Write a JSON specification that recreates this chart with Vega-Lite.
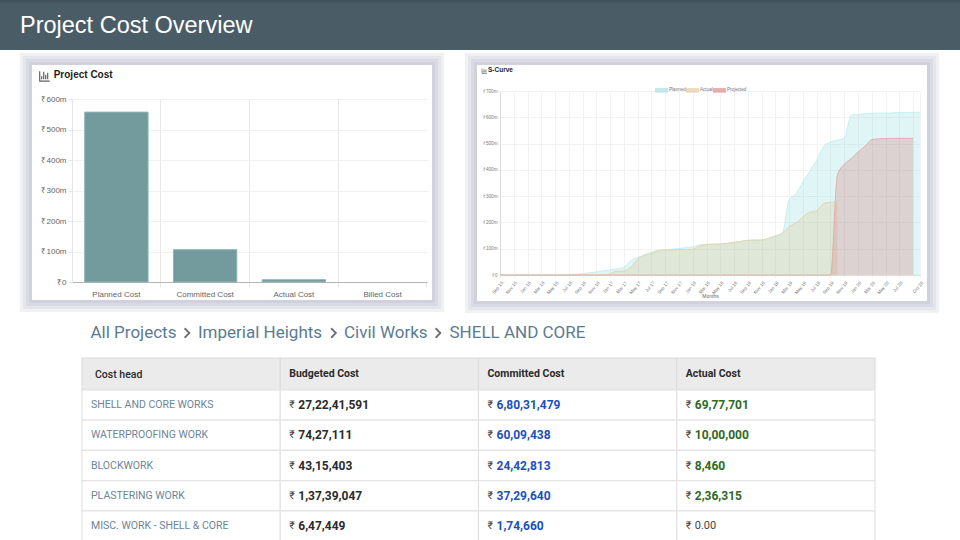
{"$schema":"https://vega.github.io/schema/vega-lite/v6.json","padding":0,"spacing":0,"bounds":"flush","background":"white","config":{"view":{"stroke":null},"concat":{"spacing":0},"font":"Liberation Sans"},
"resolve":{"scale":{"color":"independent","stroke":"independent","x":"independent","y":"independent"},"legend":{"color":"independent","stroke":"independent"}},
"vconcat":[
{"width":960,"height":50,"view":{"fill":"#4a5d67"},"title":{"text":"Project Cost Overview","anchor":"start","frame":"group","offset":-37,"dx":20,"font":"Liberation Sans","fontSize":23.5,"fontWeight":"normal","color":"#ffffff"},"data":{"values":[{"band":"header"}]},"mark":{"type":"rect","fill":{"gradient":"linear","x1":0,"y1":0,"x2":0,"y2":1,"stops":[{"offset":0,"color":"#3d4e56"},{"offset":0.08,"color":"#4a5d67"},{"offset":1,"color":"#4a5d67"}]}}},
{"width":10,"height":15,"data":{"values":[]},"mark":"rect"},
{"spacing":0,"bounds":"flush","hconcat":[
{"width":32,"height":10,"data":{"values":[]},"mark":"rect"},
{"width":400,"height":235,"view":{"stroke":"#9f9fb5","strokeOpacity":0.14,"strokeWidth":24},"data":{"values":[]},"mark":"rect"},
{"width":45,"height":10,"data":{"values":[]},"mark":"rect"},
{"width":450,"height":236,"view":{"stroke":"#9f9fb5","strokeOpacity":0.14,"strokeWidth":24},"data":{"values":[]},"mark":"rect"}
]},
{"spacing":0,"bounds":"flush","hconcat":[
{"width":32,"height":10,"data":{"values":[]},"mark":"rect"},
{"width":400,"height":235,"view":{"stroke":"#9f9fb5","strokeOpacity":0.14,"strokeWidth":18},"data":{"values":[]},"mark":"rect"},
{"width":45,"height":10,"data":{"values":[]},"mark":"rect"},
{"width":450,"height":236,"view":{"stroke":"#9f9fb5","strokeOpacity":0.14,"strokeWidth":18},"data":{"values":[]},"mark":"rect"}
]},
{"spacing":0,"bounds":"flush","hconcat":[
{"width":32,"height":10,"data":{"values":[]},"mark":"rect"},
{"width":400,"height":235,"view":{"stroke":"#9f9fb5","strokeOpacity":0.14,"strokeWidth":12},"data":{"values":[]},"mark":"rect"},
{"width":45,"height":10,"data":{"values":[]},"mark":"rect"},
{"width":450,"height":236,"view":{"stroke":"#9f9fb5","strokeOpacity":0.14,"strokeWidth":12},"data":{"values":[]},"mark":"rect"}
]},
{"spacing":0,"bounds":"flush","hconcat":[
{"width":32,"height":10,"data":{"values":[]},"mark":"rect"},
{"width":400,"height":235,"view":{"stroke":"#9f9fb5","strokeOpacity":0.14,"strokeWidth":6},"data":{"values":[]},"mark":"rect"},
{"width":45,"height":10,"data":{"values":[]},"mark":"rect"},
{"width":450,"height":236,"view":{"stroke":"#9f9fb5","strokeOpacity":0.14,"strokeWidth":6},"data":{"values":[]},"mark":"rect"}
]},
{"spacing":0,"bounds":"flush","hconcat":[
{"width":32,"height":10,"data":{"values":[]},"mark":"rect"},
{"width":400,"height":235,"view":{"fill":"#ffffff"},"data":{"values":[]},"mark":"rect"},
{"width":45,"height":10,"data":{"values":[]},"mark":"rect"},
{"width":450,"height":236,"view":{"fill":"#ffffff"},"data":{"values":[]},"mark":"rect"}
]},
{"spacing":0,"bounds":"flush","resolve":{"scale":{"color":"independent","stroke":"independent","x":"independent","y":"independent"},"legend":{"color":"independent","stroke":"independent"}},"hconcat":[
{"width":32,"height":10,"data":{"values":[]},"mark":"rect"},
{"width":400,"height":251,"title":{"text":"Project Cost","anchor":"start","frame":"group","offset":-15,"dx":21.7,"font":"Liberation Sans","fontSize":10,"fontWeight":"bold","color":"#222222"},
"data":{"values":[{"cost":"Planned Cost","value":557},{"cost":"Committed Cost","value":106},{"cost":"Actual Cost","value":7.5},{"cost":"Billed Cost","value":0}]},
"resolve":{"axis":{"x":"independent","y":"independent"}},
"layer":[
{"mark":{"type":"bar","fill":"#739b9d","stroke":"#8fb5b5","strokeWidth":1},"encoding":{
"strokeOpacity":{"condition":{"test":"datum.value==0","value":0},"value":1},
"x":{"field":"cost","type":"nominal","sort":null,"scale":{"range":[40,395],"paddingInner":0.286,"paddingOuter":0.143},"axis":{"orient":"bottom","title":null,"labels":false,"ticks":false,"domain":false,"values":["Planned Cost","Committed Cost","Actual Cost"],"bandPosition":1.2,"gridColor":"#e8e8e8","grid":true}},
"y":{"field":"value","type":"quantitative","scale":{"domain":[0,600],"range":[217,34]},"axis":{"orient":"left","title":null,"labels":false,"ticks":false,"domain":false,"values":[0,100,200,300,400,500,600],"gridColor":"#f0f0f0","grid":true}}}},
{"data":{"values":[{"icon":"chart"}]},"mark":{"type":"point","shape":"M-1,-1V1H1M-0.6,0.6V0M-0.2,0.6V-0.9M0.2,0.6V-0.3M0.6,0.6V-0.7","size":100,"stroke":"#222222","strokeWidth":1.2,"filled":false,"xOffset":-40},"encoding":{
"x":{"datum":"Planned Cost","bandPosition":0,"axis":{"orient":"bottom","title":null,"grid":false,"offset":-34,"labelAngle":0,"labelFontSize":8,"labelColor":"#666666","labelPadding":3,"bandPosition":1.2,"tickSize":5,"tickColor":"#e6e6e6","domainColor":"#b5b5b5"}},
"y":{"datum":675,"axis":{"orient":"left","title":null,"grid":false,"offset":-40,"values":[0,100,200,300,400,500,600],"labelExpr":"datum.value==0?'₹0':'₹'+datum.value+'m'","labelFontSize":8,"labelColor":"#666666","labelPadding":2,"tickSize":4,"tickColor":"#e6e6e6","domainColor":"#e6e6e6"}}}}
]},
{"width":45,"height":10,"data":{"values":[]},"mark":"rect"},
{"width":450,"height":236,"title":{"text":"S-Curve","anchor":"start","frame":"group","offset":-8,"dx":11,"font":"Liberation Sans","fontSize":6.5,"fontWeight":"bold","color":"#222222"},
"resolve":{"axis":{"x":"independent","y":"independent"}},
"data":{"values":[{"m":"Sep 15","Planned":0,"Actual":0,"Projected":0},{"m":"Oct 15","Planned":0,"Actual":0,"Projected":0},{"m":"Nov 15","Planned":0,"Actual":0,"Projected":0},{"m":"Dec 15","Planned":0,"Actual":0,"Projected":0},{"m":"Jan 16","Planned":0,"Actual":0,"Projected":0},{"m":"Feb 16","Planned":0,"Actual":0,"Projected":0},{"m":"Mar 16","Planned":0,"Actual":0,"Projected":0},{"m":"Apr 16","Planned":0,"Actual":0,"Projected":0},{"m":"May 16","Planned":0,"Actual":0,"Projected":0},{"m":"Jun 16","Planned":0,"Actual":0,"Projected":0},{"m":"Jul 16","Planned":1,"Actual":0,"Projected":0},{"m":"Aug 16","Planned":3,"Actual":0,"Projected":0},{"m":"Sep 16","Planned":5,"Actual":0,"Projected":0},{"m":"Oct 16","Planned":8,"Actual":0,"Projected":0},{"m":"Nov 16","Planned":12,"Actual":0,"Projected":0},{"m":"Dec 16","Planned":16,"Actual":0,"Projected":0},{"m":"Jan 17","Planned":20,"Actual":4,"Projected":0},{"m":"Feb 17","Planned":24,"Actual":15,"Projected":0},{"m":"Mar 17","Planned":30,"Actual":15,"Projected":0},{"m":"Apr 17","Planned":55,"Actual":30,"Projected":0},{"m":"May 17","Planned":67,"Actual":60,"Projected":0},{"m":"Jun 17","Planned":77,"Actual":75,"Projected":0},{"m":"Jul 17","Planned":87,"Actual":82,"Projected":0},{"m":"Aug 17","Planned":93,"Actual":93,"Projected":0},{"m":"Sep 17","Planned":96,"Actual":95,"Projected":0},{"m":"Oct 17","Planned":98,"Actual":96,"Projected":0},{"m":"Nov 17","Planned":101,"Actual":97,"Projected":0},{"m":"Dec 17","Planned":104,"Actual":97,"Projected":0},{"m":"Jan 18","Planned":107,"Actual":98,"Projected":0},{"m":"Feb 18","Planned":115,"Actual":110,"Projected":0},{"m":"Mar 18","Planned":117,"Actual":116,"Projected":0},{"m":"Apr 18","Planned":117,"Actual":117,"Projected":0},{"m":"May 18","Planned":118,"Actual":118,"Projected":0},{"m":"Jun 18","Planned":121,"Actual":120,"Projected":0},{"m":"Jul 18","Planned":124,"Actual":124,"Projected":0},{"m":"Aug 18","Planned":128,"Actual":128,"Projected":0},{"m":"Sep 18","Planned":132,"Actual":132,"Projected":0},{"m":"Oct 18","Planned":133,"Actual":133,"Projected":0},{"m":"Nov 18","Planned":133,"Actual":133,"Projected":0},{"m":"Dec 18","Planned":140,"Actual":140,"Projected":0},{"m":"Jan 19","Planned":148,"Actual":148,"Projected":0},{"m":"Feb 19","Planned":160,"Actual":160,"Projected":0},{"m":"Mar 19","Planned":285,"Actual":184,"Projected":0},{"m":"Apr 19","Planned":310,"Actual":199,"Projected":0},{"m":"May 19","Planned":354,"Actual":221,"Projected":0},{"m":"Jun 19","Planned":395,"Actual":239,"Projected":0},{"m":"Jul 19","Planned":437,"Actual":244,"Projected":0},{"m":"Aug 19","Planned":490,"Actual":272,"Projected":0},{"m":"Sep 19","Planned":506,"Actual":277,"Projected":0},{"m":"Oct 19","Planned":513,"Actual":277,"Projected":380},{"m":"Nov 19","Planned":520,"Actual":null,"Projected":421},{"m":"Dec 19","Planned":608,"Actual":null,"Projected":443},{"m":"Jan 20","Planned":611,"Actual":null,"Projected":468},{"m":"Feb 20","Planned":613,"Actual":null,"Projected":490},{"m":"Mar 20","Planned":615,"Actual":null,"Projected":515},{"m":"Apr 20","Planned":616,"Actual":null,"Projected":518},{"m":"May 20","Planned":616,"Actual":null,"Projected":519},{"m":"Jun 20","Planned":617,"Actual":null,"Projected":520},{"m":"Jul 20","Planned":618,"Actual":null,"Projected":520},{"m":"Aug 20","Planned":618,"Actual":null,"Projected":520},{"m":"Sep 20","Planned":619,"Actual":null,"Projected":520},{"m":"Oct 20","Planned":619,"Actual":null,"Projected":null}]},
"transform":[{"fold":["Planned","Actual","Projected"],"as":["series","value"]}],
"layer":[
{"mark":{"type":"area","interpolate":"monotone","fillOpacity":0.24,"strokeWidth":0},"encoding":{
"x":{"field":"m","type":"ordinal","sort":null,"scale":{"type":"point","padding":0,"range":[23,443]},"axis":{"orient":"bottom","title":null,"labels":false,"ticks":false,"domain":false,"values":["Sep 15","Nov 15","Jan 16","Mar 16","May 16","Jul 16","Sep 16","Nov 16","Jan 17","Mar 17","May 17","Jul 17","Sep 17","Nov 17","Jan 18","Mar 18","May 18","Jul 18","Sep 18","Nov 18","Jan 19","Mar 19","May 19","Jul 19","Sep 19","Nov 19","Jan 20","Mar 20","May 20","Jul 20","Sep 20","Oct 20"],"gridColor":"#f2f2f2","grid":true}},
"y":{"field":"value","type":"quantitative","stack":null,"scale":{"domain":[0,700],"range":[210,26]},"axis":{"orient":"left","title":null,"labels":false,"ticks":false,"domain":false,"values":[0,100,200,300,400,500,600,700],"gridColor":"#f2f2f2","grid":true}},
"color":{"field":"series","type":"nominal","sort":null,"scale":{"domain":["Planned","Actual","Projected"],"range":["#7fd8d8","#dcb878","#d0605a"]},"legend":{"orient":"none","legendX":178,"legendY":18.7,"direction":"horizontal","columns":3,"title":null,"labelFontSize":4.6,"labelColor":"#777777","symbolType":"M-1,-0.35H1V0.35H-1Z","symbolSize":169,"symbolOpacity":0.5,"symbolStrokeWidth":0,"columnPadding":-3,"labelOffset":1,"padding":0}}}},
{"mark":{"type":"line","interpolate":"monotone","strokeWidth":1,"opacity":0.8},"encoding":{"x":{"field":"m","type":"ordinal","sort":null,"axis":null},"y":{"field":"value","type":"quantitative","stack":null,"axis":null},"stroke":{"field":"series","type":"nominal","sort":null,"legend":null,"scale":{"domain":["Planned","Actual","Projected"],"range":["#bdeeec","#e3cf9f","#dfa79f"]}}}},
{"data":{"values":[{"icon":"chart"}]},"transform":[],"mark":{"type":"point","shape":"M-1,-1V1H1M-0.6,0.6V0M-0.2,0.6V-0.9M0.2,0.6V-0.3M0.6,0.6V-0.7","size":25,"stroke":"#333333","strokeWidth":0.7,"filled":false,"xOffset":-15.5},"encoding":{
"x":{"datum":"Sep 15","axis":{"orient":"bottom","grid":false,"title":"Months","titleFontSize":5,"titleFontWeight":"normal","titleColor":"#666666","titlePadding":-1,"offset":-26,"values":["Sep 15","Nov 15","Jan 16","Mar 16","May 16","Jul 16","Sep 16","Nov 16","Jan 17","Mar 17","May 17","Jul 17","Sep 17","Nov 17","Jan 18","Mar 18","May 18","Jul 18","Sep 18","Nov 18","Jan 19","Mar 19","May 19","Jul 19","Sep 19","Nov 19","Jan 20","Mar 20","May 20","Jul 20","Sep 20","Oct 20"],"labelExpr":"datum.value=='Sep 20'?'':datum.value","labelAngle":-50,"labelAlign":"right","labelBaseline":"top","labelFontSize":4.6,"labelColor":"#777777","labelPadding":3,"labelOverlap":false,"tickSize":2,"tickColor":"#eeeeee","domainColor":"#dddddd"}},
"y":{"datum":776,"axis":{"orient":"left","grid":false,"title":null,"offset":-23,"values":[0,100,200,300,400,500,600,700],"labelExpr":"datum.value==0?'₹0':'₹'+datum.value+'m'","labelFontSize":4.6,"labelColor":"#777777","labelPadding":1,"tickSize":2,"tickColor":"#eeeeee","domainColor":"#dddddd"}}}}
]}
]},
{"width":10,"height":242,"data":{"values":[]},"mark":"rect"},
{"width":960,"height":51,"data":{"name":"trail","values":[{"label":"All Projects"},{"label":"Imperial Heights"},{"label":"Civil Works"},{"label":"SHELL AND CORE"},{"label":"separator"}]},
"encoding":{"x":{"datum":"trail","scale":{"type":"point","domain":["trail"],"range":[90.5,90.5],"padding":0},"axis":null},"y":{"datum":"crumb","scale":{"type":"point","domain":["crumb"],"range":[26,26],"padding":0},"axis":null}},
"layer":[
{"transform":[{"filter":"datum.label=='All Projects'"}],"mark":{"type":"text","align":"left","baseline":"middle","font":"Roboto","fontSize":17,"color":"#5b7b92"},"encoding":{"text":{"field":"label"}}},
{"transform":[{"filter":"datum.label=='Imperial Heights'"}],"mark":{"type":"text","align":"left","baseline":"middle","dx":107.5,"font":"Roboto","fontSize":17,"color":"#5b7b92"},"encoding":{"text":{"field":"label"}}},
{"transform":[{"filter":"datum.label=='Civil Works'"}],"mark":{"type":"text","align":"left","baseline":"middle","dx":253.5,"font":"Roboto","fontSize":17,"color":"#5b7b92"},"encoding":{"text":{"field":"label"}}},
{"transform":[{"filter":"datum.label=='SHELL AND CORE'"}],"mark":{"type":"text","align":"left","baseline":"middle","dx":359,"font":"Roboto","fontSize":17,"color":"#5b7b92"},"encoding":{"text":{"field":"label"}}},
{"transform":[{"filter":"datum.label=='separator'"}],"mark":{"type":"point","shape":"M-0.5,-1L0.5,0L-0.5,1","size":90,"stroke":"#333333","strokeWidth":1.8,"filled":false,"xOffset":96.5}},
{"transform":[{"filter":"datum.label=='separator'"}],"mark":{"type":"point","shape":"M-0.5,-1L0.5,0L-0.5,1","size":90,"stroke":"#333333","strokeWidth":1.8,"filled":false,"xOffset":243}},
{"transform":[{"filter":"datum.label=='separator'"}],"mark":{"type":"point","shape":"M-0.5,-1L0.5,0L-0.5,1","size":90,"stroke":"#333333","strokeWidth":1.8,"filled":false,"xOffset":347.5}}
]},
{"width":960,"height":182,
"resolve":{"scale":{"y":"independent"}},
"layer":[
{"data":{"values":[{"column":"Cost head","row":"head"},{"column":"Budgeted Cost","row":"head"},{"column":"Committed Cost","row":"head"},{"column":"Actual Cost","row":"head"}]},"mark":{"type":"rect","fill":"#ebebeb","stroke":"#dcdcdc","strokeWidth":1.2},"encoding":{"x":{"field":"column","type":"nominal","scale":{"type":"band","domain":["Cost head","Budgeted Cost","Committed Cost","Actual Cost"],"range":[82,875],"padding":0},"axis":null},"y":{"field":"row","type":"nominal","scale":{"type":"band","domain":["head"],"range":[0,32],"padding":0},"axis":null}}},
{"data":{"values":[{"column":"Budgeted Cost","row":"head"},{"column":"Committed Cost","row":"head"},{"column":"Actual Cost","row":"head"}]},"mark":{"type":"text","align":"left","baseline":"middle","dx":9,"font":"Roboto","fontSize":10.5,"fontWeight":"bold","color":"#2a2a2a"},"encoding":{"x":{"field":"column","type":"nominal","bandPosition":0,"axis":null},"y":{"field":"row","type":"nominal","scale":{"type":"band","domain":["head"],"range":[0,31.5],"padding":0},"axis":null},"text":{"field":"column"}}},
{"data":{"values":[{"column":"Cost head","row":"head"}]},"mark":{"type":"text","align":"left","baseline":"middle","dx":13,"font":"Roboto","fontSize":10.5,"fontWeight":500,"color":"#2a2a2a"},"encoding":{"x":{"field":"column","type":"nominal","bandPosition":0,"axis":null},"y":{"field":"row","type":"nominal","scale":{"type":"band","domain":["head"],"range":[0,34],"padding":0},"axis":null},"text":{"field":"column"}}},
{"data":{"name":"cells","values":[
{"row":"SHELL AND CORE WORKS","column":"Cost head","value":"SHELL AND CORE WORKS"},{"row":"SHELL AND CORE WORKS","column":"Budgeted Cost","value":"27,22,41,591"},{"row":"SHELL AND CORE WORKS","column":"Committed Cost","value":"6,80,31,479"},{"row":"SHELL AND CORE WORKS","column":"Actual Cost","value":"69,77,701"},
{"row":"WATERPROOFING WORK","column":"Cost head","value":"WATERPROOFING WORK"},{"row":"WATERPROOFING WORK","column":"Budgeted Cost","value":"74,27,111"},{"row":"WATERPROOFING WORK","column":"Committed Cost","value":"60,09,438"},{"row":"WATERPROOFING WORK","column":"Actual Cost","value":"10,00,000"},
{"row":"BLOCKWORK","column":"Cost head","value":"BLOCKWORK"},{"row":"BLOCKWORK","column":"Budgeted Cost","value":"43,15,403"},{"row":"BLOCKWORK","column":"Committed Cost","value":"24,42,813"},{"row":"BLOCKWORK","column":"Actual Cost","value":"8,460"},
{"row":"PLASTERING WORK","column":"Cost head","value":"PLASTERING WORK"},{"row":"PLASTERING WORK","column":"Budgeted Cost","value":"1,37,39,047"},{"row":"PLASTERING WORK","column":"Committed Cost","value":"37,29,640"},{"row":"PLASTERING WORK","column":"Actual Cost","value":"2,36,315"},
{"row":"MISC. WORK - SHELL & CORE","column":"Cost head","value":"MISC. WORK - SHELL & CORE"},{"row":"MISC. WORK - SHELL & CORE","column":"Budgeted Cost","value":"6,47,449"},{"row":"MISC. WORK - SHELL & CORE","column":"Committed Cost","value":"1,74,660"},{"row":"MISC. WORK - SHELL & CORE","column":"Actual Cost","value":"0.00"}
]},
"layer":[
{"mark":{"type":"rect","fill":"#ffffff","stroke":"#e3e3e3","strokeWidth":1.2},"encoding":{"x":{"field":"column","type":"nominal","axis":null},"y":{"field":"row","type":"nominal","sort":null,"scale":{"type":"band","range":[32,183],"padding":0},"axis":null}}},
{"transform":[{"filter":"datum.column=='Cost head'"}],"mark":{"type":"text","align":"left","baseline":"middle","dx":9,"font":"Roboto","fontSize":10.5,"color":"#6b8599"},"encoding":{"x":{"field":"column","type":"nominal","bandPosition":0,"axis":null},"y":{"field":"row","type":"nominal","sort":null,"bandPosition":0.5,"axis":null},"text":{"field":"value"}}},
{"transform":[{"filter":"datum.column!='Cost head'"}],"mark":{"type":"text","align":"left","baseline":"middle","dx":9,"font":"Roboto","fontSize":10.5,"color":"#444444","text":"₹"},"encoding":{"x":{"field":"column","type":"nominal","bandPosition":0,"axis":null},"y":{"field":"row","type":"nominal","sort":null,"bandPosition":0.5,"axis":null}}},
{"transform":[{"filter":"datum.column!='Cost head' && datum.value!='0.00'"}],"mark":{"type":"text","align":"left","baseline":"middle","dx":18,"font":"Roboto","fontSize":12,"fontWeight":"bold"},"encoding":{"x":{"field":"column","type":"nominal","bandPosition":0,"axis":null},"y":{"field":"row","type":"nominal","sort":null,"bandPosition":0.5,"axis":null},"text":{"field":"value"},"color":{"field":"column","type":"nominal","legend":null,"scale":{"domain":["Budgeted Cost","Committed Cost","Actual Cost"],"range":["#2b2b2b","#1a50c0","#2e6b1e"]}}}},
{"transform":[{"filter":"datum.value=='0.00'"}],"mark":{"type":"text","align":"left","baseline":"middle","dx":18,"font":"Roboto","fontSize":11,"color":"#444444"},"encoding":{"x":{"field":"column","type":"nominal","bandPosition":0,"axis":null},"y":{"field":"row","type":"nominal","sort":null,"bandPosition":0.5,"axis":null},"text":{"field":"value"}}}
]}
]}
]}
